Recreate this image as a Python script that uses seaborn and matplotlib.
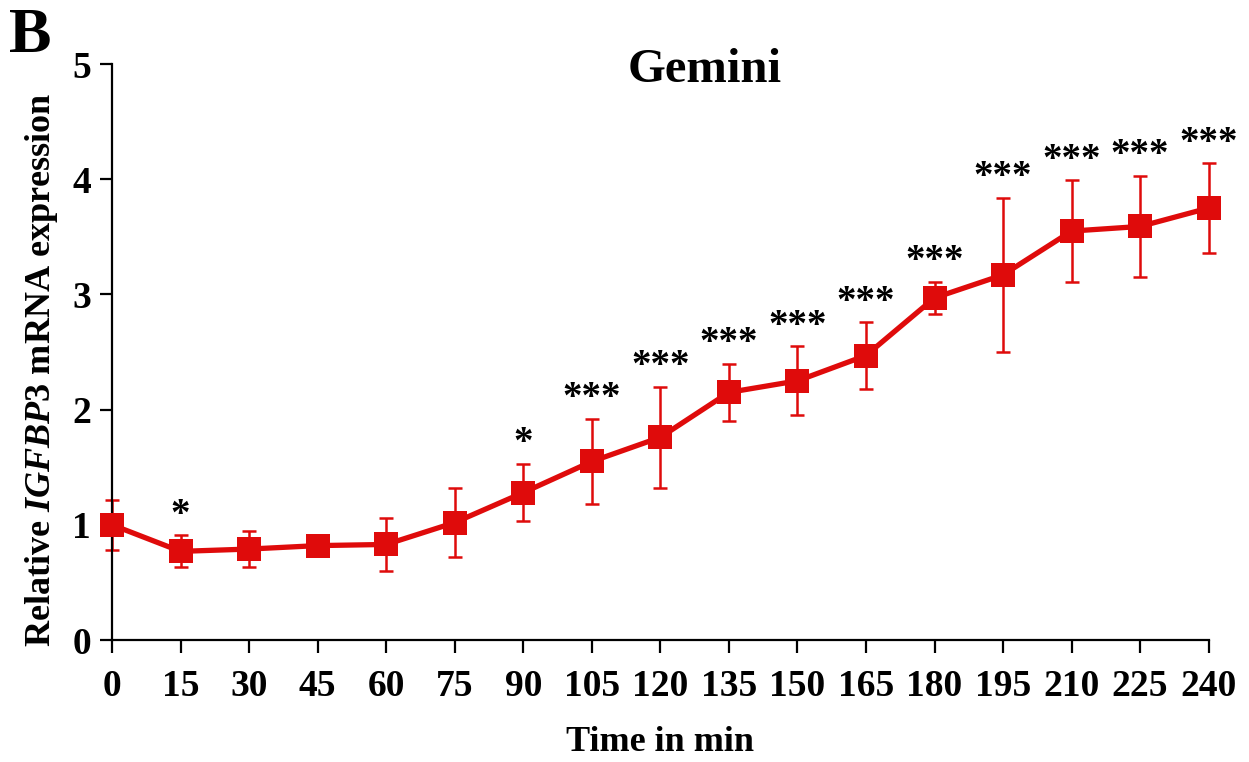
import matplotlib
matplotlib.use("Agg")
import matplotlib.pyplot as plt
import seaborn as sns
import pandas as pd
import numpy as np

time_min = [0, 15, 30, 45, 60, 75, 90, 105, 120, 135, 150, 165, 180, 195, 210, 225, 240]
expression = [1.00, 0.77, 0.79, 0.82, 0.83, 1.02, 1.28, 1.55, 1.76, 2.15, 2.25, 2.47, 2.97, 3.17, 3.55, 3.59, 3.75]
error = [0.22, 0.14, 0.16, 0.09, 0.23, 0.30, 0.25, 0.37, 0.44, 0.25, 0.30, 0.29, 0.14, 0.67, 0.44, 0.44, 0.39]
significance = ["", "*", "", "", "", "", "*", "***", "***", "***", "***", "***", "***", "***", "***", "***", "***"]
y_ticks = [0, 1, 2, 3, 4, 5]

sns.set_style("ticks")
plt.rcParams['font.family'] = ['Liberation Serif', 'DejaVu Serif']
plt.rcParams['font.weight'] = 'bold'
plt.rcParams['mathtext.fontset'] = 'custom'
plt.rcParams['mathtext.it'] = 'Liberation Serif:italic:bold'
plt.rcParams['mathtext.rm'] = 'Liberation Serif:bold'
for k in ['text.color', 'axes.labelcolor', 'xtick.color', 'ytick.color', 'axes.edgecolor']:
    plt.rcParams[k] = 'black'

red = "#df0b0b"
df = pd.DataFrame({"time": time_min, "expr": expression, "err": error})

fig = plt.figure(figsize=(12.49, 7.62), dpi=100)
ax = fig.add_axes([0.0897, 0.160, 0.878, 0.756])

ax.errorbar(df["time"], df["expr"], yerr=df["err"], fmt="none", ecolor=red,
            elinewidth=1.8, capsize=5, capthick=1.8, clip_on=False, zorder=2)
sns.lineplot(data=df, x="time", y="expr", ax=ax, color=red, linewidth=3.8,
             marker="s", markersize=17, markeredgewidth=0, clip_on=False, zorder=3)

for t, v, e, s in zip(time_min, expression, error, significance):
    if s:
        ax.annotate(s, (t, v + e), xytext=(0, 1), textcoords="offset points",
                    ha="center", va="bottom", fontsize=28, fontweight="bold")

ax.set_xlim(0, 240)
ax.set_ylim(0, 5)
ax.set_xticks(time_min)
ax.set_yticks(y_ticks)
ax.tick_params(axis="both", direction="out", length=9, width=1.6, labelsize=27)
ax.tick_params(axis="y", pad=6)
ax.tick_params(axis="x", pad=12)
for lab in ax.get_xticklabels() + ax.get_yticklabels():
    lab.set_fontweight("bold")
sns.despine(ax=ax)
ax.spines["left"].set_linewidth(1.6)
ax.spines["bottom"].set_linewidth(1.6)

ax.set_xlabel("Time in min", fontsize=26, fontweight="bold", labelpad=16)
ax.set_ylabel(r"Relative $\mathit{IGFBP3}$ mRNA expression", fontsize=26, fontweight="bold")
ax.yaxis.set_label_coords(-0.047, 0.47)
fig.text(705 / 1249, 1 - 70 / 762, "Gemini", fontsize=35, fontweight="bold", ha="center", va="center")
fig.text(0.007, 0.99, "B", fontsize=46, fontweight="bold", ha="left", va="top")

fig.savefig("out.png", dpi=100)
